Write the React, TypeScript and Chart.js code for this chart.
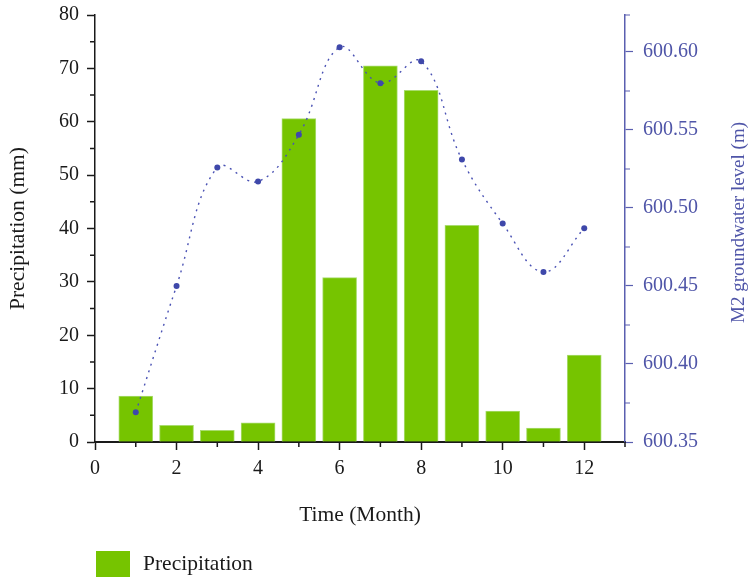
import React, { useEffect, useRef } from 'react';
import { Chart, registerables } from 'chart.js';

Chart.register(...registerables);

const months = [1, 2, 3, 4, 5, 6, 7, 8, 9, 10, 11, 12];
const precipitation = [8.6, 3.1, 2.2, 3.6, 60.6, 30.8, 70.5, 65.9, 40.6, 5.8, 2.6, 16.3];
const groundwater = [600.369, 600.45, 600.526, 600.517, 600.547, 600.603, 600.58, 600.594, 600.531, 600.49, 600.459, 600.487];

const xMajorTicks = [0, 2, 4, 6, 8, 10, 12];
const xMinorTicks = [1, 3, 5, 7, 9, 11, 13];
const yMajorTicks = [0, 10, 20, 30, 40, 50, 60, 70, 80];
const yMinorTicks = [5, 15, 25, 35, 45, 55, 65, 75];
const y1MajorTicks = [600.35, 600.4, 600.45, 600.5, 600.55, 600.6];
const y1MinorTicks = [600.375, 600.425, 600.475, 600.525, 600.575];

const FONT_FAMILY = '"Liberation Serif", "DejaVu Serif", serif';
const BLACK = '#1a1a1a';
const BLUE_AXIS = '#5a5fb0';
const BLUE_TEXT = '#4f55a8';
const BAR_FILL = '#76c400';
const BAR_EDGE = '#a9dc6e';

const minorTickPlugin = {
  id: 'minorTicksAndExtras',
  afterDraw(chart: any) {
    const ctx = chart.ctx;
    const { x, y, y1 } = chart.scales;
    const area = chart.chartArea;
    ctx.save();
    ctx.lineWidth = 1.5;
    ctx.strokeStyle = BLACK;
    ctx.beginPath();
    xMinorTicks.forEach((v) => {
      const px = x.getPixelForValue(v);
      ctx.moveTo(px, x.top);
      ctx.lineTo(px, x.top + 5);
    });
    yMinorTicks.forEach((v) => {
      const py = y.getPixelForValue(v);
      ctx.moveTo(y.right, py);
      ctx.lineTo(y.right - 5, py);
    });
    ctx.stroke();
    ctx.strokeStyle = BLUE_AXIS;
    ctx.lineWidth = 1.2;
    ctx.beginPath();
    y1MinorTicks.forEach((v) => {
      const py = y1.getPixelForValue(v);
      ctx.moveTo(y1.left, py);
      ctx.lineTo(y1.left + 5, py);
    });
    ctx.moveTo(y1.left, area.top);
    ctx.lineTo(y1.left + 5, area.top);
    ctx.stroke();

    // right axis title (reads bottom-to-top)
    ctx.fillStyle = BLUE_TEXT;
    ctx.font = `19px ${FONT_FAMILY}`;
    ctx.textAlign = 'center';
    ctx.textBaseline = 'middle';
    ctx.translate(739, (area.top + area.bottom) / 2 - 6);
    ctx.rotate(-Math.PI / 2);
    ctx.fillText('M2 groundwater level (m)', 0, 0);
    ctx.restore();

    // legend (bar dataset only)
    const ds = chart.data.datasets[0];
    ctx.save();
    const lx = area.left + 1;
    const ly = chart.height - 27;
    ctx.fillStyle = ds.backgroundColor;
    ctx.fillRect(lx, ly, 34, 26);
    ctx.fillStyle = BLACK;
    ctx.font = `21.5px ${FONT_FAMILY}`;
    ctx.textAlign = 'left';
    ctx.textBaseline = 'middle';
    ctx.fillText(ds.label, lx + 47, ly + 13);
    ctx.restore();
  },
};

export default function App() {
  const canvasRef = useRef<HTMLCanvasElement | null>(null);

  useEffect(() => {
    document.body.style.margin = '0';
    const canvas = canvasRef.current;
    if (!canvas) return;
    const font = { family: FONT_FAMILY, size: 20 };
    const titleFont = { family: FONT_FAMILY, size: 21.5 };
    const chart = new Chart(canvas, {
      type: 'bar',
      data: {
        datasets: [
          {
            type: 'bar',
            label: 'Precipitation',
            data: months.map((m, i) => ({ x: m, y: precipitation[i] })),
            backgroundColor: BAR_FILL,
            borderColor: BAR_EDGE,
            borderWidth: 1,
            barThickness: 34,
            xAxisID: 'x',
            yAxisID: 'y',
            order: 2,
          } as any,
          {
            type: 'line',
            label: 'M2 groundwater level',
            data: months.map((m, i) => ({ x: m, y: groundwater[i] })),
            borderColor: '#4a52b4',
            borderWidth: 1.4,
            borderDash: [2, 5],
            tension: 0.4,
            fill: false,
            pointRadius: 3,
            pointBorderWidth: 0,
            pointBackgroundColor: '#3f48aa',
            xAxisID: 'x',
            yAxisID: 'y1',
            order: 1,
          } as any,
        ],
      },
      options: {
        responsive: false,
        animation: false,
        devicePixelRatio: 1,
        layout: { padding: { top: 15, bottom: 50, left: 0, right: 0 } },
        plugins: { legend: { display: false }, tooltip: { enabled: false } },
        scales: {
          x: {
            type: 'linear',
            position: 'bottom',
            min: 0,
            max: 13,
            offset: false,
            afterBuildTicks: (s: any) => {
              s.ticks = xMajorTicks.map((v) => ({ value: v }));
            },
            afterFit: (s: any) => {
              s.height = 86;
              s.paddingLeft = 0;
              s.paddingRight = 0;
            },
            ticks: { font, color: BLACK, padding: 7, maxRotation: 0, autoSkip: false },
            grid: { offset: false, drawOnChartArea: false, drawTicks: true, tickLength: 8, tickColor: BLACK, tickWidth: 1.5 },
            border: { display: true, color: BLACK, width: 2 },
            title: { display: true, text: 'Time (Month)', font: titleFont, color: BLACK, padding: { top: 0, bottom: 0 } },
          },
          y: {
            type: 'linear',
            position: 'left',
            min: 0,
            max: 80,
            afterBuildTicks: (s: any) => {
              s.ticks = yMajorTicks.map((v) => ({ value: v }));
            },
            afterFit: (s: any) => {
              s.width = 95;
              s.paddingTop = 0;
              s.paddingBottom = 0;
            },
            ticks: { font, color: BLACK, padding: 8, autoSkip: false },
            grid: { drawOnChartArea: false, drawTicks: true, tickLength: 8, tickColor: BLACK, tickWidth: 1.5 },
            border: { display: true, color: BLACK, width: 1.5 },
            title: { display: true, text: 'Precipitation (mm)', font: titleFont, color: BLACK, padding: { top: 5, bottom: 0 } },
          },
          y1: {
            type: 'linear',
            position: 'right',
            min: 600.35,
            max: 600.6237,
            afterBuildTicks: (s: any) => {
              s.ticks = y1MajorTicks.map((v) => ({ value: v }));
            },
            afterFit: (s: any) => {
              s.width = 124;
              s.paddingTop = 0;
              s.paddingBottom = 0;
            },
            ticks: {
              font,
              color: BLUE_TEXT,
              padding: 10,
              autoSkip: false,
              callback: (v: any) => Number(v).toFixed(2),
            },
            grid: { drawOnChartArea: false, drawTicks: true, tickLength: 8, tickColor: BLUE_AXIS, tickWidth: 1.2 },
            border: { display: true, color: BLUE_AXIS, width: 1.5 },
            title: { display: false },
          },
        },
      } as any,
      plugins: [minorTickPlugin],
    });
    return () => chart.destroy();
  }, []);

  return (
    <div style={{ width: 749, height: 578, position: 'relative' }}>
      <canvas ref={canvasRef} width={749} height={578} style={{ display: 'block' }} />
    </div>
  );
}
